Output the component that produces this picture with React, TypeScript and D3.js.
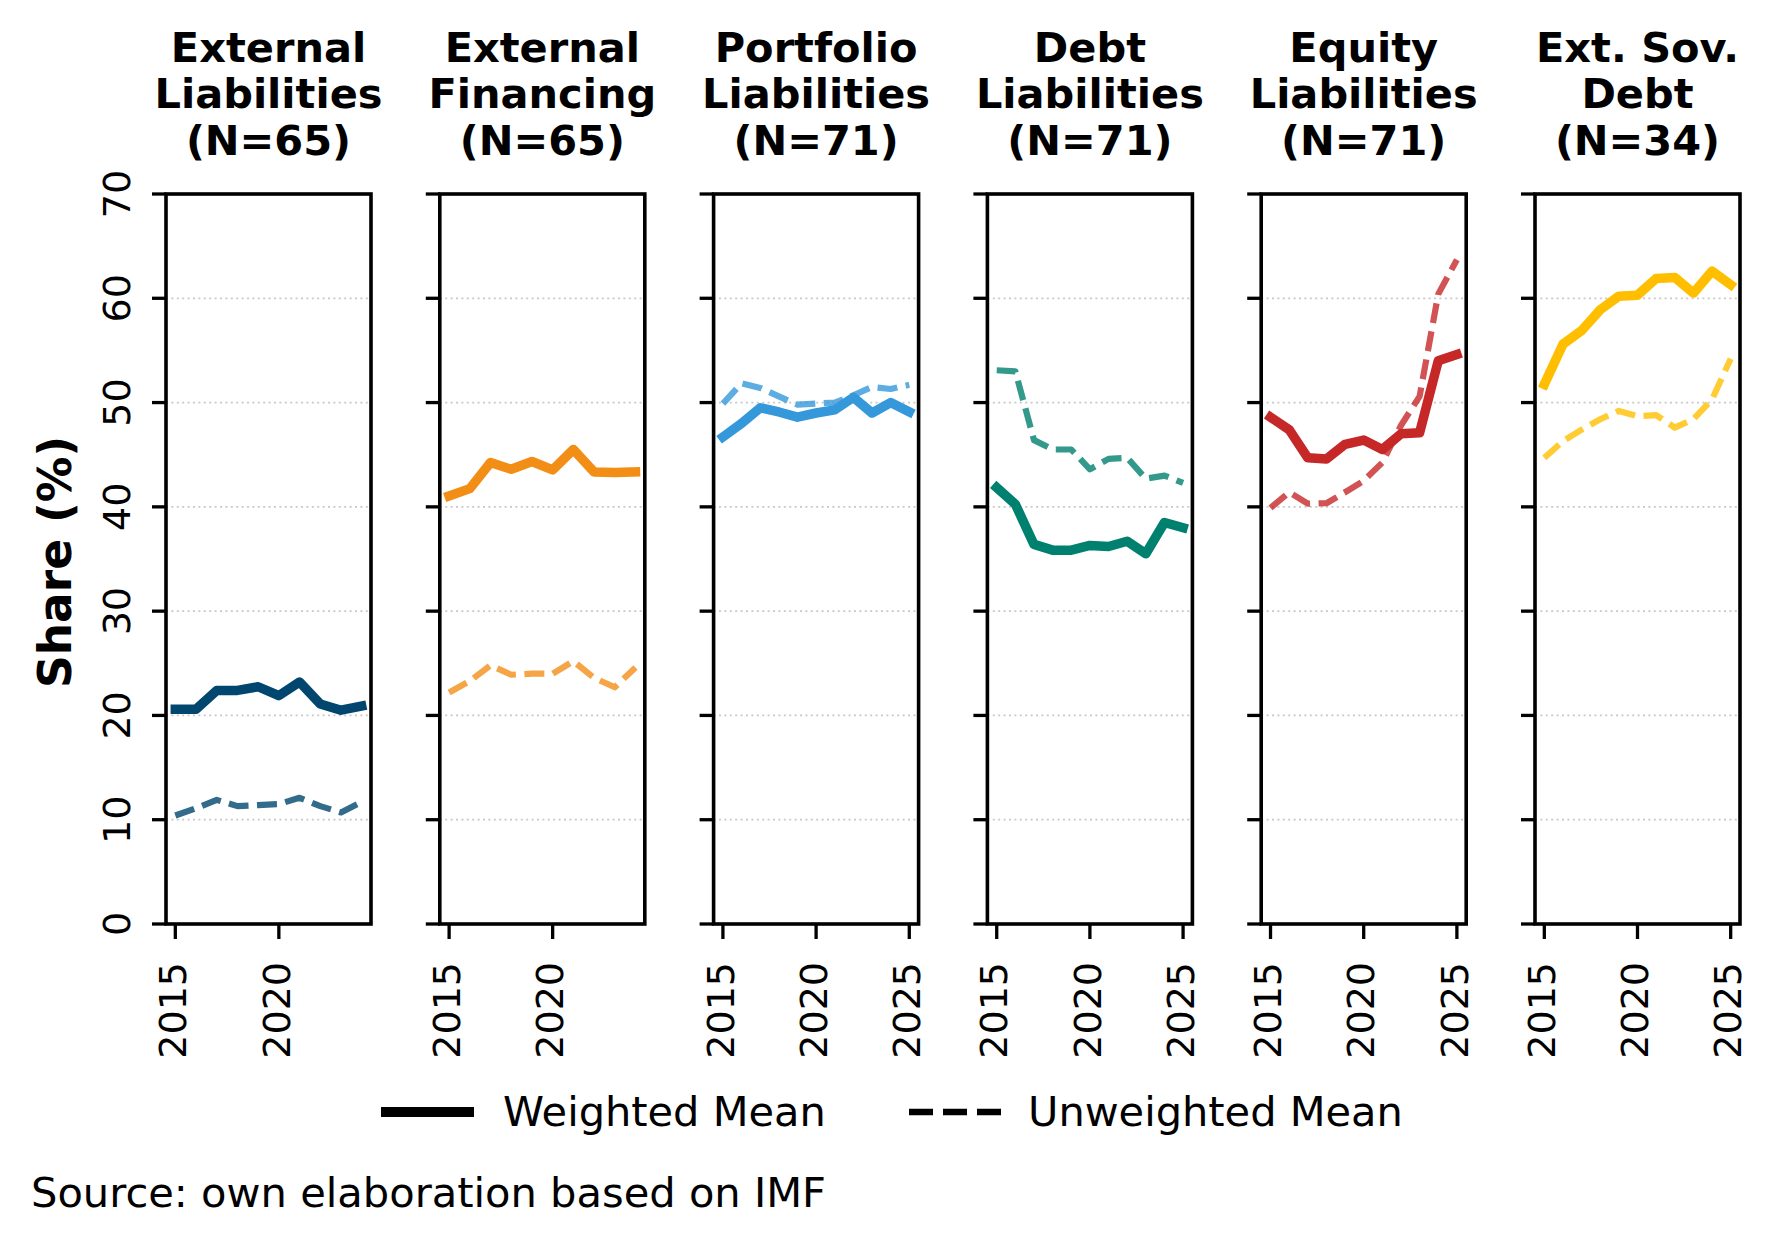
import * as d3 from "d3";

// years covered by each panel
const yearsShort = [2015, 2016, 2017, 2018, 2019, 2020, 2021, 2022, 2023, 2024];
const yearsLong = [2015, 2016, 2017, 2018, 2019, 2020, 2021, 2022, 2023, 2024, 2025];

const titles = [
  ["External", "Liabilities", "(N=65)"],
  ["External", "Financing", "(N=65)"],
  ["Portfolio", "Liabilities", "(N=71)"],
  ["Debt", "Liabilities", "(N=71)"],
  ["Equity", "Liabilities", "(N=71)"],
  ["Ext. Sov.", "Debt", "(N=34)"],
];

const colors = ["#00466e", "#f28e16", "#3498db", "#00806e", "#c62828", "#ffbf00"];

// weighted means (solid)
const extLiabW = [20.6, 20.6, 22.4, 22.4, 22.75, 21.9, 23.2, 21.1, 20.5, 20.9];
const extFinW = [41.05, 41.75, 44.25, 43.6, 44.35, 43.55, 45.5, 43.35, 43.3, 43.35];
const portW = [46.7, 48.0, 49.5, 49.1, 48.6, 49.0, 49.3, 50.5, 49.0, 50.0, 49.1];
const debtW = [41.85, 40.25, 36.4, 35.85, 35.85, 36.3, 36.2, 36.7, 35.5, 38.5, 38.0];
const equityW = [48.6, 47.4, 44.7, 44.6, 46.0, 46.4, 45.5, 47.0, 47.1, 54.0, 54.6];
const sovW = [51.75, 55.6, 56.9, 58.9, 60.2, 60.3, 61.9, 62.0, 60.5, 62.6, 61.3];

// unweighted means (dashed)
const extLiabU = [10.4, 11.1, 11.9, 11.3, 11.4, 11.5, 12.1, 11.3, 10.7, 11.7];
const extFinU = [22.2, 23.3, 24.8, 23.9, 24.0, 24.0, 25.2, 23.6, 22.7, 24.6];
const portU = [49.9, 51.85, 51.4, 50.6, 49.8, 49.9, 50.0, 50.7, 51.5, 51.3, 51.7];
const debtU = [53.1, 53.0, 46.4, 45.5, 45.5, 43.6, 44.6, 44.7, 42.7, 43.0, 42.3];
const equityU = [39.9, 41.4, 40.3, 40.35, 41.4, 42.5, 44.25, 47.8, 50.6, 60.4, 63.7];
const sovU = [44.7, 46.3, 47.4, 48.4, 49.2, 48.7, 48.8, 47.6, 48.4, 50.3, 54.2];

const panelYears = [yearsShort, yearsShort, yearsLong, yearsLong, yearsLong, yearsLong];
const weighted = [extLiabW, extFinW, portW, debtW, equityW, sovW];
const unweighted = [extLiabU, extFinU, portU, debtU, equityU, sovU];

const yTicks = [0, 10, 20, 30, 40, 50, 60, 70];
const xTicks = [2015, 2020, 2025];

const W = 1778;
const H = 1245;
const FONT = "DejaVu Sans";
const top = 194;
const bottom = 924;
const left0 = 166;
const step = 273.8;
const pw = 205;

export default function App() {
  const y = d3.scaleLinear().domain([0, 70]).range([bottom, top]);

  return (
    <svg
      width={W}
      height={H}
      style={{ position: "absolute", left: 0, top: 0, background: "#fff" }}
      fontFamily={FONT}
    >
      <rect width={W} height={H} fill="#fff" />
      {titles.map((t, i) => {
        const x0 = left0 + i * step;
        const yrs = panelYears[i];
        const pad = (yrs[yrs.length - 1] - yrs[0]) * 0.05;
        const x = d3
          .scaleLinear()
          .domain([yrs[0] - pad, yrs[yrs.length - 1] + pad])
          .range([x0, x0 + pw]);
        const line = d3
          .line<number>()
          .x((_, k) => x(yrs[k]))
          .y((v) => y(v));
        const ticks = xTicks.filter((tk) => tk <= x.domain()[1]);
        return (
          <g key={i}>
            {t.map((s, j) => (
              <text
                key={j}
                x={x0 + pw / 2}
                y={61.7 + j * 46.7}
                textAnchor="middle"
                fontSize={41.5}
                fontWeight="bold"
              >
                {s}
              </text>
            ))}
            {yTicks.slice(1, -1).map((v) => (
              <line
                key={v}
                x1={x0}
                x2={x0 + pw}
                y1={y(v)}
                y2={y(v)}
                stroke="#c8c8c8"
                strokeWidth={1.8}
                strokeDasharray="2,3.4"
              />
            ))}
            <path
              d={line(unweighted[i]) ?? ""}
              fill="none"
              stroke={colors[i]}
              strokeOpacity={0.8}
              strokeWidth={6.2}
              strokeDasharray="20,8.5"
              strokeLinejoin="round"
            />
            <path
              d={line(weighted[i]) ?? ""}
              fill="none"
              stroke={colors[i]}
              strokeWidth={9.5}
              strokeLinejoin="round"
              strokeLinecap="square"
            />
            <rect
              x={x0}
              y={top}
              width={pw}
              height={bottom - top}
              fill="none"
              stroke="#000"
              strokeWidth={3.6}
            />
            {yTicks.map((v) => (
              <line key={v} x1={x0 - 14} x2={x0} y1={y(v)} y2={y(v)} stroke="#000" strokeWidth={3.3} />
            ))}
            {i === 0 &&
              yTicks.map((v) => (
                <text
                  key={v}
                  transform={`translate(116,${y(v)}) rotate(-90)`}
                  textAnchor="middle"
                  dy="0.36em"
                  fontSize={38}
                >
                  {v}
                </text>
              ))}
            {ticks.map((tk) => (
              <g key={tk}>
                <line x1={x(tk)} x2={x(tk)} y1={bottom} y2={bottom + 15} stroke="#000" strokeWidth={3.3} />
                <text
                  transform={`translate(${x(tk) - 3},962) rotate(-90)`}
                  textAnchor="end"
                  dy="0.36em"
                  fontSize={38}
                >
                  {tk}
                </text>
              </g>
            ))}
          </g>
        );
      })}
      <text
        transform="translate(55,562) rotate(-90)"
        textAnchor="middle"
        dy="0.36em"
        fontSize={45.5}
        fontWeight="bold"
      >
        Share (%)
      </text>
      <line x1={381} x2={474} y1={1112} y2={1112} stroke="#000" strokeWidth={10} />
      <text x={503} y={1126} fontSize={41.5}>
        Weighted Mean
      </text>
      <line
        x1={909}
        x2={1001}
        y1={1112}
        y2={1112}
        stroke="#000"
        strokeWidth={6.5}
        strokeDasharray="24,10"
      />
      <text x={1028} y={1126} fontSize={41.5}>
        Unweighted Mean
      </text>
      <text x={31} y={1207} fontSize={41.6}>
        Source: own elaboration based on IMF
      </text>
    </svg>
  );
}
